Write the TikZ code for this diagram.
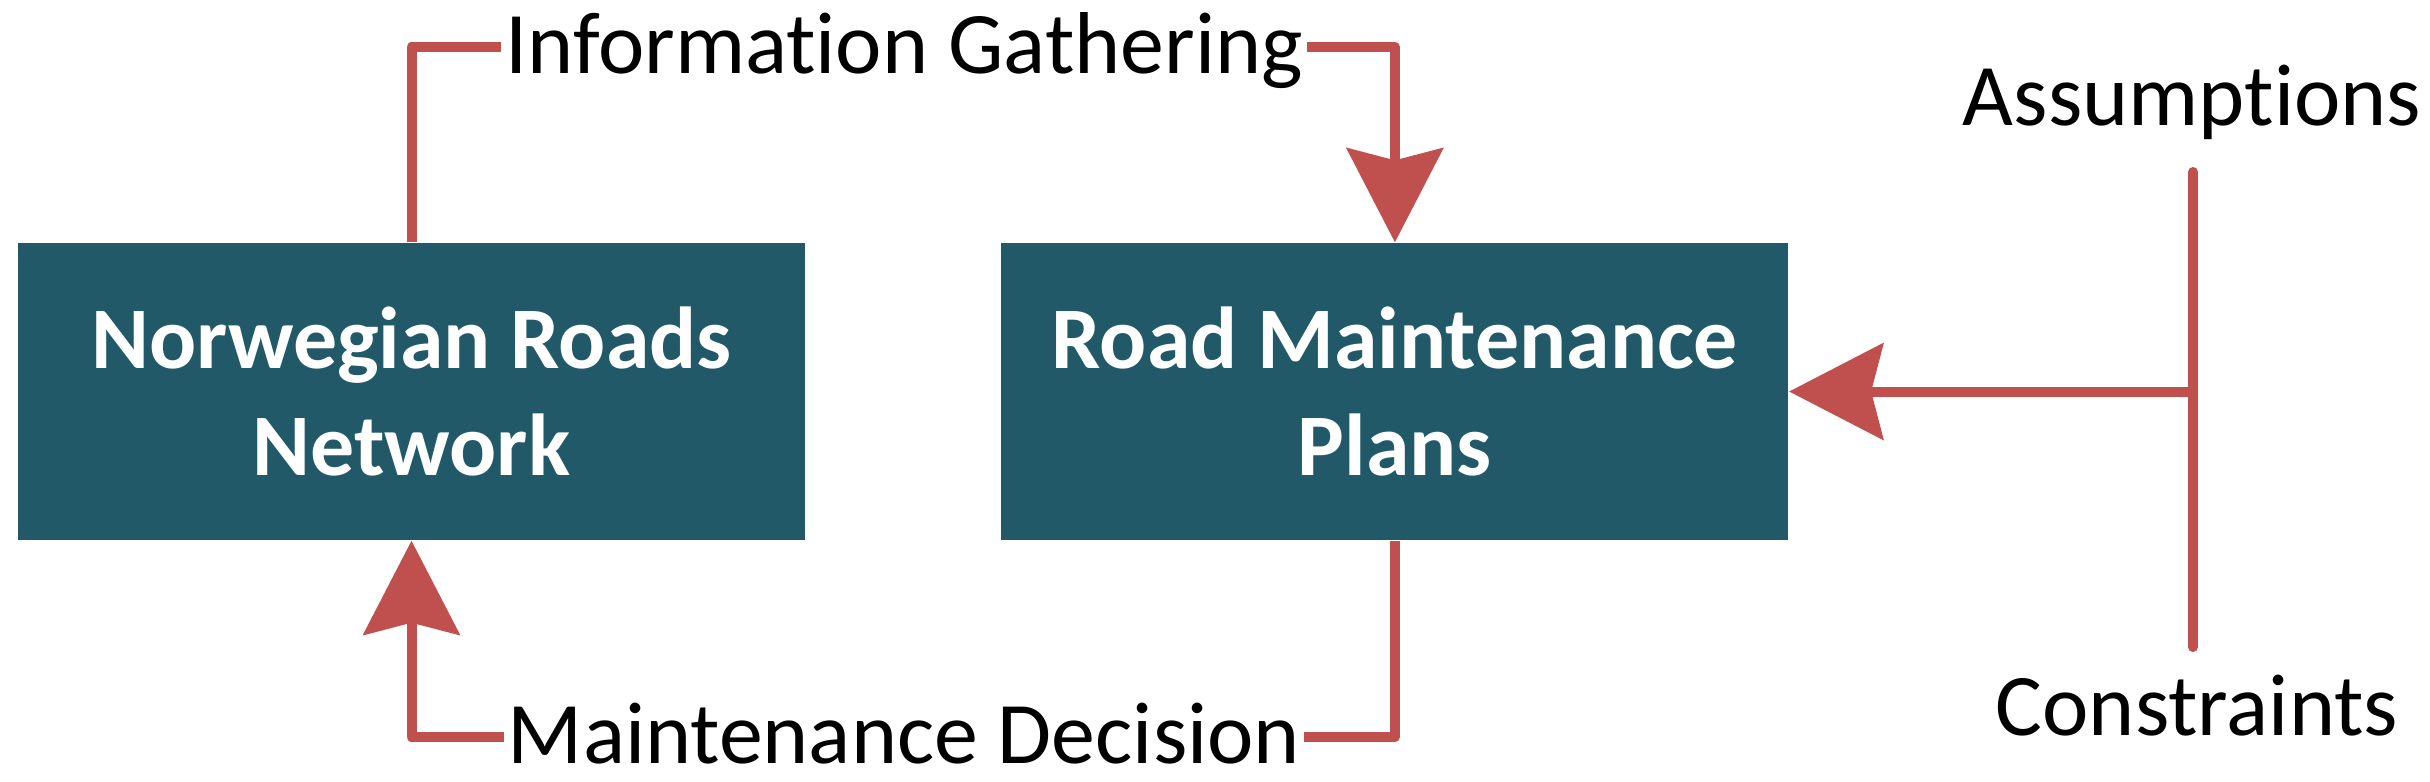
\documentclass[tikz,border=0pt]{standalone}
\usepackage{fontspec}
\setmainfont{Carlito}[Ligatures=NoCommon]
\usetikzlibrary{positioning, arrows.meta}
\definecolor{roadteal}{HTML}{215968}
\definecolor{flowred}{HTML}{C0504D}

\begin{document}
\begin{tikzpicture}[node distance=1.95cm,
      font=\fontsize{25}{30.5}\selectfont,
      block/.style={fill=roadteal, text=white, inner sep=0pt,
                    minimum width=7.87cm, minimum height=2.97cm,
                    align=center, font=\fontsize{25}{30.5}\selectfont\bfseries},
      tag/.style={inner xsep=1pt, inner ysep=0pt,
                  text height=0.53cm, text depth=0pt},
      link/.style={flowred, line width=0.1cm, line join=round},
      arr/.style={link, -{Stealth[length=0.94cm, width=0.96cm, inset=0.12cm]}}]
    \useasboundingbox (0,0) rectangle (24.30,-7.81);
    \node[block]              (net)    at (4.115,-3.915) {Norwegian Roads\\Network};
    \node[block, right=of net] (plans)                   {Road Maintenance\\Plans};
    \node[tag]                (gather) at (9.04,-0.47)   {Information Gathering};
    \node[tag]                (decide) at (9.04,-7.37)   {Maintenance Decision};
    \coordinate (bartop) at (21.93,-1.72);
    \coordinate (barbot) at (21.93,-6.47);
    \coordinate (join)   at (21.93,-3.915);
    \node[anchor=base]        (assum)  at (21.92,-1.25)  {Assumptions};
    \node[anchor=base]        (constr) at (21.97,-7.35)  {Constraints};
    \draw[link] (net.north)   |- (gather.west);
    \draw[arr]  (gather.east) -| (plans.north);
    \draw[link] (plans.south) |- (decide.east);
    \draw[arr]  (decide.west) -| (net.south);
    \draw[link, line cap=round] (bartop) -- (barbot);
    \draw[arr]  (join) -- (plans.east);
\end{tikzpicture}
\end{document}
